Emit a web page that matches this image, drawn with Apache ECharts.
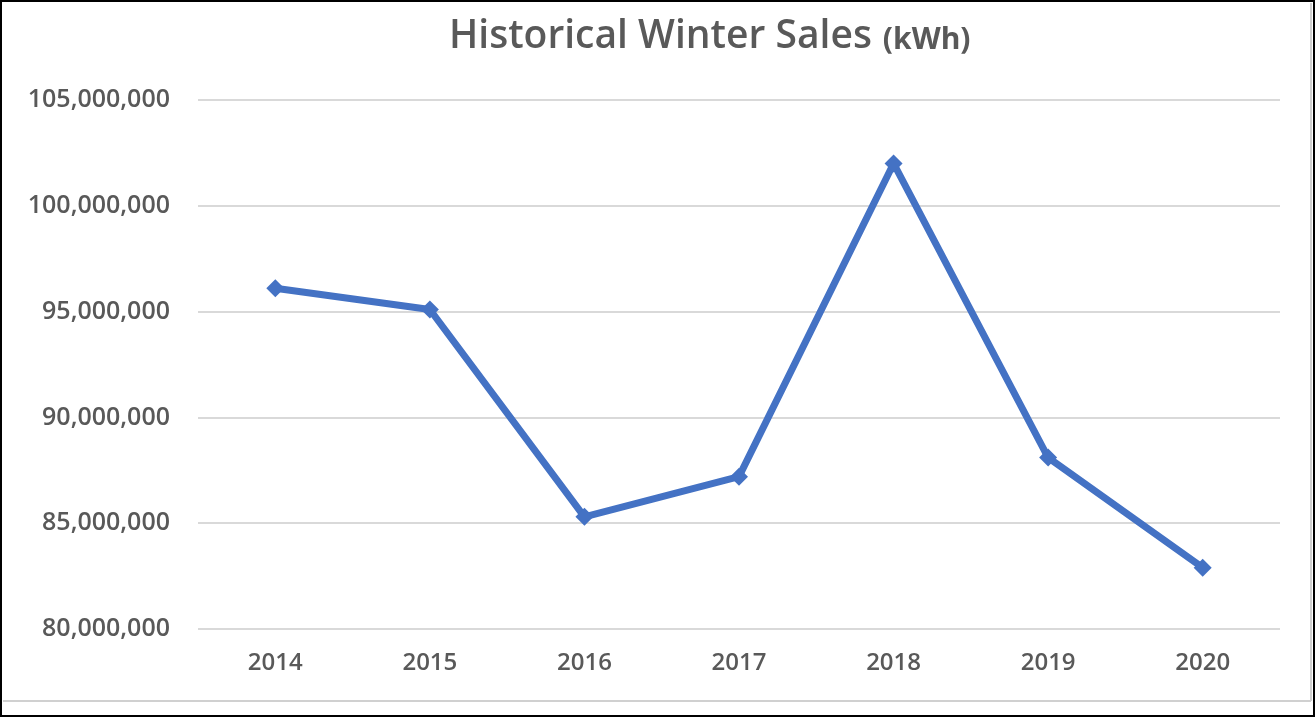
<!DOCTYPE html>
<html><head><meta charset="utf-8">
<script src="https://cdn.jsdelivr.net/npm/echarts@6/dist/echarts.min.js"></script>
<style>html,body{margin:0;padding:0;background:#fff}#c{width:1316px;height:718px}</style>
</head><body><div id="c"></div>
<script>
const years = ['2014','2015','2016','2017','2018','2019','2020'];
const sales = [96100000, 95100000, 85300000, 87200000, 102000000, 88100000, 82900000];
const yMin = 80000000, yMax = 105000000, yStep = 5000000;

const chart = echarts.init(document.getElementById('c'));
chart.setOption({
  backgroundColor: '#fff',
  animation: false,
  title: {
    text: '{a|Historical Winter Sales} {b|(kWh)}',
    left: 444, top: 12,
    textStyle: {
      rich: {
        a: {fontFamily: 'Open Sans', fontSize: 39, fontWeight: 600, color: '#595959'},
        b: {fontFamily: 'Open Sans', fontSize: 30, fontWeight: 700, color: '#595959', padding:[7,0,0,6]}
      }
    }
  },
  grid: {left: 198, right: 36, top: 100, bottom: 89},
  xAxis: {
    type: 'category', data: years, boundaryGap: true,
    axisLine: {show: false}, axisTick: {show: false},
    axisLabel: {fontFamily: 'Open Sans', fontSize: 24, fontWeight: 600, color: '#595959', margin: 22}
  },
  yAxis: {
    type: 'value', min: yMin, max: yMax, interval: yStep,
    axisLine: {show: false}, axisTick: {show: false},
    splitLine: {lineStyle: {color: '#d9d9d9', width: 2}},
    axisLabel: {fontFamily: 'Open Sans', fontSize: 25, fontWeight: 600, color: '#595959', margin: 28,
      formatter: v => v.toLocaleString('en-US')}
  },
  series: [{
    type: 'line', data: sales,
    lineStyle: {color: '#4472C4', width: 7},
    itemStyle: {color: '#4472C4'},
    symbol: 'diamond', symbolSize: 18
  }],
  graphic: [
    {type: 'rect', shape: {x: 1, y: 1, width: 1313, height: 715}, style: {fill: 'none', stroke: '#000', lineWidth: 2}, z: 100},
    {type: 'line', shape: {x1: 3, y1: 701, x2: 1311, y2: 701}, style: {stroke: '#d0d0d0', lineWidth: 2}, z: 100},
    {type: 'line', shape: {x1: 1311, y1: 3, x2: 1311, y2: 701}, style: {stroke: '#d0d0d0', lineWidth: 2}, z: 100}
  ]
});
</script></body></html>
